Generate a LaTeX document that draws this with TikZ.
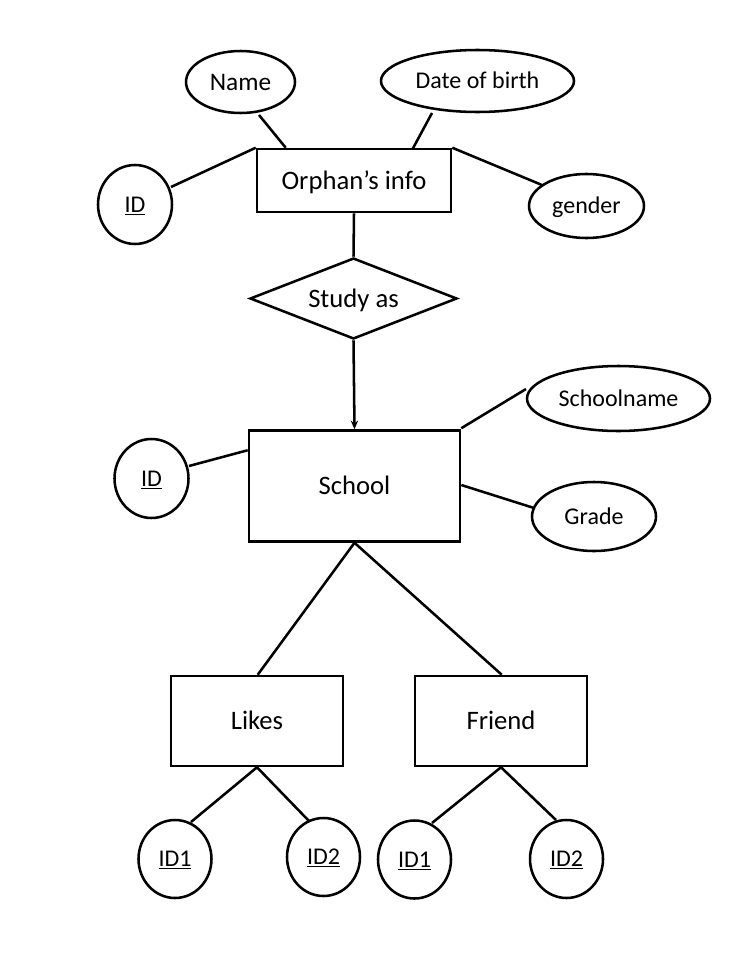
\documentclass[tikz,border=0pt]{standalone}
\usepackage{fontspec}
\setmainfont{Carlito}
\usetikzlibrary{shapes.geometric,arrows.meta,calc}
\begin{document}
\begin{tikzpicture}[x=0.75pt,y=-0.75pt,line width=1.9pt,
  ent/.style={draw,rectangle,inner sep=0pt,text height=16.9pt,text depth=4pt,font=\fontsize{20}{24}\selectfont},
  attr/.style={draw,ellipse,inner sep=0pt,text height=15.8pt,text depth=4pt,font=\fontsize{18}{22}\selectfont},
  keyattr/.style={attr,minimum width=54.75pt,minimum height=58.5pt},
  rel/.style={draw,diamond,aspect=2.5,inner sep=0pt,text height=16.9pt,text depth=4pt,font=\fontsize{20}{24}\selectfont},
  conn/.style={draw,line width=1.9pt},
  arr/.style={conn,-{Stealth[length=6.5pt,width=5.5pt]}}]
\useasboundingbox (0,0) rectangle (742,960);

% entities
\node[ent,minimum width=145.5pt,minimum height=47.25pt] (orph) at (354,180.5) {Orphan’s info};
\node[ent,minimum width=158.25pt,minimum height=83.25pt] (school) at (354.5,486) {School};
\node[ent,minimum width=129pt,minimum height=67.5pt] (likes) at (257,721) {Likes};
\node[ent,minimum width=129pt,minimum height=67.5pt] (friend) at (501,721) {Friend};

% relationship
\node[rel,minimum width=155.25pt,minimum height=60.75pt] (study) at (353.5,298.5) {Study as};

% attributes
\node[attr,minimum width=81.75pt,minimum height=46.5pt,text height=16.2pt,font=\fontsize{19}{23}\selectfont] (name) at (240.5,82) {Name};
\node[attr,minimum width=144.75pt,minimum height=46.5pt] (dob) at (477.5,81) {Date of birth};
\node[attr,minimum width=55.5pt,minimum height=59.25pt] (ida) at (135,204.5) {\underline{ID}};
\node[attr,minimum width=86.25pt,minimum height=48pt] (gender) at (586.5,206) {gender};
\node[attr,minimum width=137.25pt,minimum height=48.75pt] (sname) at (618.5,398.5) {Schoolname};
\node[attr,minimum width=93pt,minimum height=51.75pt] (grade) at (594,516.5) {Grade};
\node[attr,minimum width=55.5pt,minimum height=59.25pt] (idb) at (151.5,478.5) {\underline{ID}};
\node[keyattr] (lone) at (175,859) {\underline{ID1}};
\node[keyattr] (ltwo) at (323.5,857) {\underline{ID2}};
\node[keyattr] (fone) at (414.5,859.5) {\underline{ID1}};
\node[keyattr] (ftwo) at (566.5,859) {\underline{ID2}};

% connectors
\draw[conn] ($(name.center)+(18.5,33)$) -- ($(orph.north west)+(30,0)$);
\draw[conn] ($(dob.center)+(-45.5,32)$) -- ($(orph.north west)+(157,1)$);
\draw[conn] ($(ida.center)+(36,-17.5)$) -- (orph.north west);
\draw[conn] (orph.north east) -- ($(gender.center)+(-44.5,-21)$);
\draw[conn] (orph.south) -- (study.north);
\draw[arr] (study.south) -- (school.north);
\draw[conn] ($(school.north east)+(0,-1)$) -- ($(sname.center)+(-92.5,-9.5)$);
\draw[conn] ($(school.east)+(0,-1)$) -- ($(grade.center)+(-60,-8.5)$);
\draw[conn] ($(idb.center)+(37.5,-12.5)$) -- ($(school.north west)+(0,21)$);
\draw[conn] (school.south) -- ($(likes.north west)+(88,0)$);
\draw[conn] (school.south) -- ($(friend.north west)+(88,0)$);
\draw[conn] (likes.south) -- ($(lone.center)+(16,-37)$);
\draw[conn] (likes.south) -- ($(ltwo.center)+(-14.5,-36)$);
\draw[conn] (friend.south) -- ($(fone.center)+(17.5,-36.5)$);
\draw[conn] (friend.south) -- ($(ftwo.center)+(-10.5,-39)$);
\end{tikzpicture}
\end{document}
